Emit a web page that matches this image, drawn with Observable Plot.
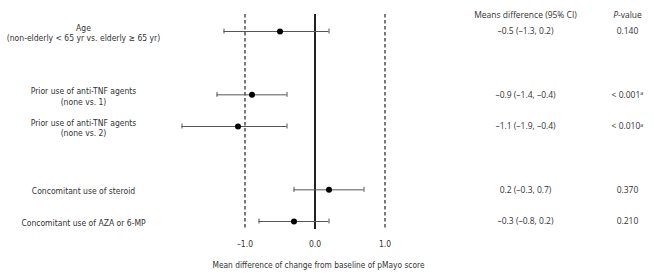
<!DOCTYPE html>
<html><head><meta charset="utf-8">
<script src="https://cdn.jsdelivr.net/npm/d3@7"></script>
<script src="https://cdn.jsdelivr.net/npm/@observablehq/plot@0.6"></script>
<style>
body{margin:0;background:#fff;}
svg{font-family:"Liberation Sans Narrow","DejaVu Sans Condensed","Roboto",sans-serif;}
</style>
</head><body><div id="chart"></div>
<script>
const labels = [
  "Age\n(non-elderly < 65 yr vs. elderly ≥ 65 yr)",
  "Prior use of anti-TNF agents\n(none vs. 1)",
  "Prior use of anti-TNF agents\n(none vs. 2)",
  "Concomitant use of steroid",
  "Concomitant use of AZA or 6-MP"
];
const rows = [0, 2, 3, 5, 6];
const means = [-0.5, -0.9, -1.1, 0.2, -0.3];
const lower = [-1.3, -1.4, -1.9, -0.3, -0.8];
const upper = [0.2, -0.4, -0.4, 0.7, 0.2];
const pvals = ["0.140", "<0.001", "<0.010", "0.370", "0.210"];
const pnote = ["", "a", "a", "", ""];
const xTicks = [-1, 0, 1];
const refLines = [-1, 1];
const xLabel = "Mean difference of change from baseline of pMayo score";
const headMean = "Means difference (95% CI)";
const headP = "P-value";

const fmt = v => (v < 0 ? "\u2013" : "") + Math.abs(v).toFixed(1);
const data = labels.map((l, i) => ({
  label: l, row: rows[i], mean: means[i], lo: lower[i], hi: upper[i],
  ci: `${fmt(means[i])} (${fmt(lower[i])}, ${fmt(upper[i])})`,
  p: pvals[i].replace("<", "< "), note: pnote[i]
}));

const txt = "#333";
const plot = Plot.plot({
  width: 654, height: 276,
  marginLeft: 0, marginRight: 0, marginTop: 14, marginBottom: 47,
  x: {domain: [-1, 1], range: [244.5, 384.5]},
  y: {domain: [0, 6], range: [31, 221], axis: null},
  style: {fontSize: "8.5px", color: txt, background: "white"},
  marks: [
    Plot.ruleX(refLines, {stroke: "#222", strokeWidth: 1.2, strokeDasharray: "3.5,2.5"}),
    Plot.ruleX([0], {stroke: "#222", strokeWidth: 2}),
    Plot.ruleY(data, {y: "row", x1: "lo", x2: "hi", stroke: "#555", strokeWidth: 1}),
    Plot.ruleX(data, {x: "lo", y1: "row", y2: "row", insetTop: -2.5, insetBottom: -2.5, stroke: "#555"}),
    Plot.ruleX(data, {x: "hi", y1: "row", y2: "row", insetTop: -2.5, insetBottom: -2.5, stroke: "#555"}),
    Plot.dot(data, {x: "mean", y: "row", r: 3, fill: "#000"}),
    Plot.text(data, {text: "label", y: "row", frameAnchor: "left", dx: 83, dy: 1, textAnchor: "middle", lineHeight: 1.25, fill: txt, fontSize: 8.5}),
    Plot.text(data, {text: "ci", y: "row", frameAnchor: "left", dx: 525, textAnchor: "middle", fill: txt, fontSize: 8.5, fontFamily: "Open Sans"}),
    Plot.text(data, {text: "p", y: "row", frameAnchor: "left", dx: 627, textAnchor: "middle", fill: txt, fontSize: 8.5, fontFamily: "Open Sans", className: "pv"}),
    Plot.text([headMean], {frameAnchor: "top-left", dx: 525, dy: 1, textAnchor: "middle", lineAnchor: "middle", fill: txt, fontSize: 8.5, fontFamily: "Open Sans"}),
    Plot.text([headP], {frameAnchor: "top-left", dx: 627, dy: 1, textAnchor: "middle", lineAnchor: "middle", fill: txt, fontSize: 8.5, fontFamily: "Open Sans", className: "ph"}),
    Plot.axisX(xTicks, {tickSize: 0, tickFormat: d => fmt(d), tickPadding: 11, fill: txt, fontSize: 8.5, label: null}),
    Plot.text([xLabel], {x: () => 0.05, frameAnchor: "bottom", dy: 38, fill: txt, fontSize: 8.3})
  ]
});
document.getElementById("chart").append(plot);

const svg = d3.select(plot);
svg.selectAll("g.pv text").each(function(d) {
  const n = data[d] ? data[d].note : "";
  if (n) d3.select(this).append("tspan").attr("dy", "-0.45em").attr("font-size", "5.5px").text(n);
});
svg.selectAll("g.ph text").each(function() {
  const t = d3.select(this);
  t.text(null);
  t.append("tspan").attr("font-style", "italic").text("P");
  t.append("tspan").text("-value");
});
</script>
</body></html>
